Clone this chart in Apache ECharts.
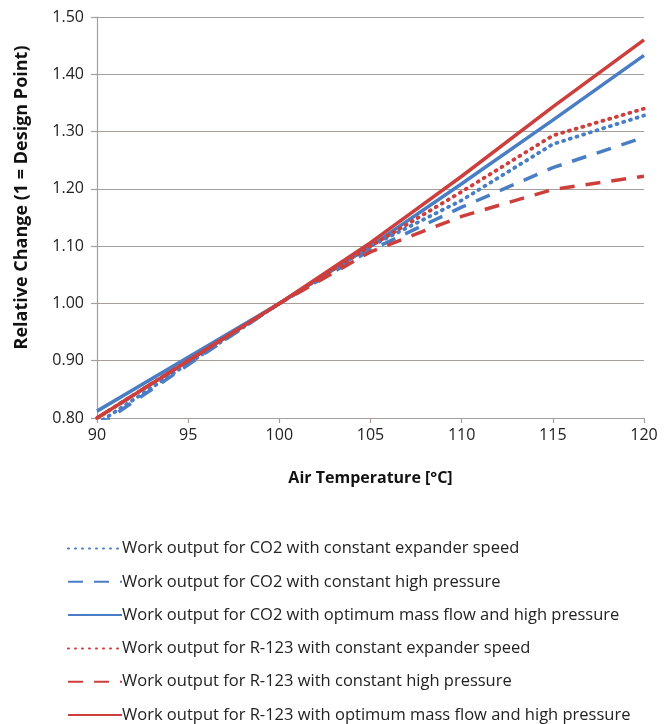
<!DOCTYPE html>
<html>
<head>
<meta charset="utf-8">
<script src="https://cdn.jsdelivr.net/npm/echarts@6/dist/echarts.min.js"></script>
<style>
  html, body { margin: 0; padding: 0; background: #ffffff; }
  #chart { width: 672px; height: 724px; }
</style>
</head>
<body>
<div id="chart"></div>
<script>
// Air temperature [°C]
const temps = [90, 95, 100, 105, 110, 115, 120];

// Relative change of work output (1 = design point)
const co2Speed     = [0.790, 0.895, 1.00, 1.100, 1.180, 1.278, 1.328];
const co2Pressure  = [0.785, 0.893, 1.00, 1.093, 1.168, 1.237, 1.290];
const co2Optimum   = [0.812, 0.906, 1.00, 1.100, 1.209, 1.320, 1.433];
const r123Speed    = [0.800, 0.900, 1.00, 1.100, 1.195, 1.293, 1.340];
const r123Pressure = [0.800, 0.900, 1.00, 1.090, 1.152, 1.199, 1.222];
const r123Optimum  = [0.800, 0.900, 1.00, 1.106, 1.222, 1.343, 1.460];

const seriesNames = [
  'Work output for CO2 with constant expander speed',
  'Work output for CO2 with constant high pressure',
  'Work output for CO2 with optimum mass flow and high pressure',
  'Work output for R-123 with constant expander speed',
  'Work output for R-123 with constant high pressure',
  'Work output for R-123 with optimum mass flow and high pressure'
];

const BLUE = '#4a7ec4';
const RED = '#cc3f3c';
const GRID = '#a89e98';
const FONT = 'Open Sans';

const pair = vals => temps.map((t, i) => [t, vals[i]]);

function makeSeries(name, vals, color, style) {
  const ls = { color: color, width: 3.5 };
  if (style === 'dot') { ls.type = [1, 6]; ls.cap = 'round'; ls.width = 3.8; }
  else if (style === 'dash') { ls.type = [15, 11]; ls.cap = 'butt'; }
  else { ls.type = 'solid'; }
  return {
    name: name,
    type: 'line',
    data: pair(vals),
    smooth: false,
    showSymbol: false,
    symbol: 'none',
    clip: true,
    color: color,
    lineStyle: ls
  };
}

const chart = echarts.init(document.getElementById('chart'), null, { renderer: 'canvas' });

chart.setOption({
  backgroundColor: '#ffffff',
  animation: false,
  textStyle: { fontFamily: FONT },
  grid: { left: 97, right: 28, top: 17, bottom: 306, outerBoundsMode: 'none', containLabel: false },
  xAxis: {
    type: 'value',
    min: 90, max: 120, interval: 5,
    name: 'Air Temperature [°C]',
    nameLocation: 'middle',
    nameGap: 52,
    nameTextStyle: { fontFamily: FONT, fontSize: 16, fontWeight: 'bold', color: '#111' },
    axisLine: { show: true, lineStyle: { color: GRID, width: 1.2 } },
    axisTick: { show: true, inside: false, length: 5, lineStyle: { color: GRID, width: 1.2 } },
    axisLabel: { fontFamily: FONT, fontSize: 16, color: '#222', margin: 9 },
    splitLine: { show: false }
  },
  yAxis: {
    type: 'value',
    min: 0.8, max: 1.5, interval: 0.1,
    name: 'Relative Change (1 = Design Point)',
    nameLocation: 'middle',
    nameGap: 66,
    nameRotate: 90,
    nameTextStyle: {
      fontFamily: FONT, fontSize: 18, fontWeight: 'bold', color: '#111',
      padding: [0, 0, 0, 40]
    },
    axisLine: { show: true, lineStyle: { color: GRID, width: 1.2 } },
    axisTick: { show: true, inside: false, length: 6, lineStyle: { color: GRID, width: 1.2 } },
    axisLabel: {
      fontFamily: FONT, fontSize: 16, color: '#222', margin: 13,
      formatter: v => v.toFixed(2)
    },
    splitLine: { show: true, lineStyle: { color: GRID, width: 1.2 } }
  },
  legend: {
    orient: 'vertical',
    left: 62,
    top: 535,
    height: 200,
    itemWidth: 54,
    itemHeight: 14,
    itemGap: 16.3,
    itemStyle: { opacity: 0 },
    textStyle: { fontFamily: FONT, fontSize: 16.5, color: '#222', padding: [0, 0, 0, -5] },
    data: seriesNames
  },
  series: [
    makeSeries(seriesNames[0], co2Speed, BLUE, 'dot'),
    makeSeries(seriesNames[1], co2Pressure, BLUE, 'dash'),
    makeSeries(seriesNames[2], co2Optimum, BLUE, 'solid'),
    makeSeries(seriesNames[3], r123Speed, RED, 'dot'),
    makeSeries(seriesNames[4], r123Pressure, RED, 'dash'),
    makeSeries(seriesNames[5], r123Optimum, RED, 'solid')
  ]
});
</script>
</body>
</html>
